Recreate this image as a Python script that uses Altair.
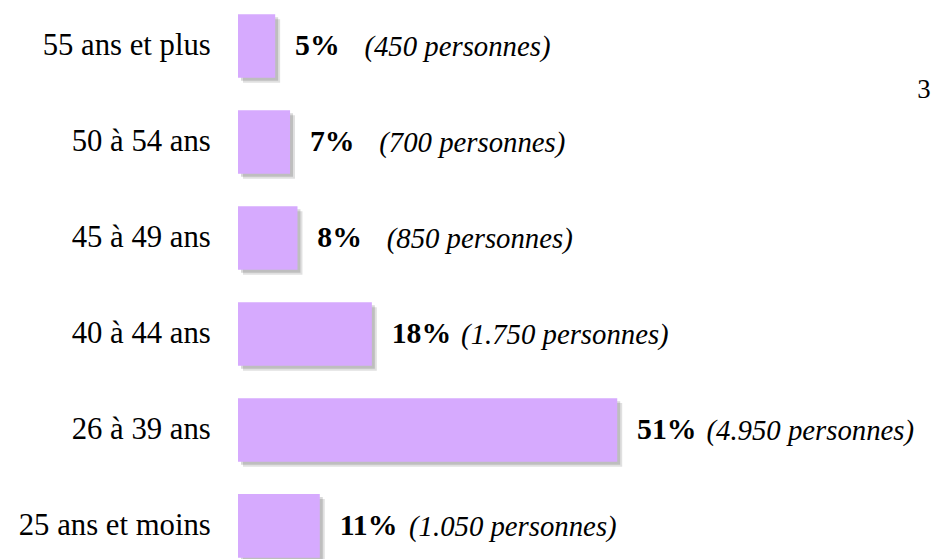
import altair as alt
import pandas as pd

categories = ["55 ans et plus", "50 à 54 ans", "45 à 49 ans", "40 à 44 ans", "26 à 39 ans", "25 ans et moins"]
percents = [5, 7, 8, 18, 51, 11]
persons = ["(450 personnes)", "(700 personnes)", "(850 personnes)", "(1.750 personnes)", "(4.950 personnes)", "(1.050 personnes)"]

df = pd.DataFrame({
    "cat": categories,
    "pct": percents,
    "pct_label": [f"{p}%" for p in percents],
    "persons": persons,
})

FONT = "Liberation Serif"
BAR = "#D6AAFE"

x = alt.X("pct:Q", axis=None, scale=alt.Scale(domain=[0, 93.33], nice=False, zero=True))
y = alt.Y("cat:N", sort=categories, title=None,
          scale=alt.Scale(paddingInner=0.338, paddingOuter=0),
          axis=alt.Axis(domain=False, ticks=False, labelFont=FONT, labelFontSize=31,
                        labelColor="black", labelPadding=28, labelLimit=300))

base = alt.Chart(df)

shadow1 = base.mark_bar(color="#000000", opacity=0.12, xOffset=5, yOffset=5, x2Offset=5, y2Offset=5).encode(x=x, y=y)
shadow2 = base.mark_bar(color="#000000", opacity=0.15, xOffset=3, yOffset=3, x2Offset=3, y2Offset=3).encode(x=x, y=y)
bars = base.mark_bar(color=BAR).encode(x=x, y=y)

pct_text = base.mark_text(align="left", baseline="middle", dx=20, font=FONT, fontSize=30,
                          fontWeight="bold", color="black").encode(x=x, y=y, text="pct_label:N")
per_text = base.mark_text(align="left", baseline="middle", dx=90, dy=1, font=FONT, fontSize=29,
                          fontStyle="italic", color="black").encode(x=x, y=y, text="persons:N")

corner = alt.Chart(pd.DataFrame({"t": ["3"]})).mark_text(
    align="left", baseline="middle", font=FONT, fontSize=27, color="black"
).encode(x=alt.value(685), y=alt.value(76), text="t:N")

chart = alt.layer(shadow1, shadow2, bars, pct_text, per_text, corner).properties(
    width=700, height=548,
    autosize=alt.AutoSizeParams(type="none"),
    padding={"left": 232, "top": 4, "right": 0, "bottom": 0},
).configure_view(stroke=None)

chart.save("out.html", embed_options={"renderer": "svg", "actions": False})
